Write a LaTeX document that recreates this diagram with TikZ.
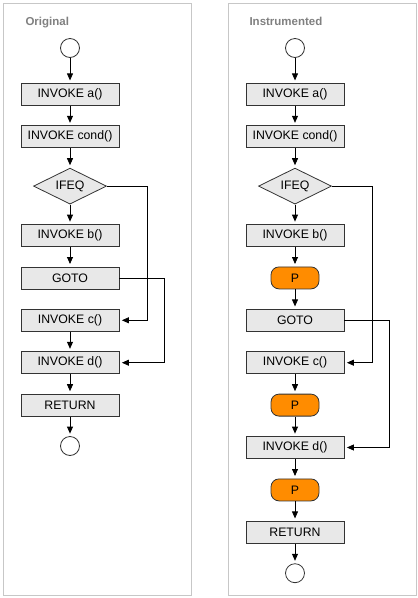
\documentclass[tikz,border=0pt]{standalone}
\usepackage{fontspec}
\setmainfont{Liberation Sans}
\usepackage{xcolor}
\usepackage{tikz}
\usetikzlibrary{positioning,shapes.geometric,arrows.meta}
\definecolor{probeorange}{HTML}{FF8C00}

\begin{document}
\begin{tikzpicture}[
    x=1pt, y=-1pt,
    node distance=19.6pt,
    font=\fontsize{12.3}{14}\selectfont,
    panel/.style={draw=black!22, line width=0.8pt},
    paneltitle/.style={anchor=base west, font=\fontsize{11.5}{13}\selectfont\bfseries, text=black!50},
    block/.style={rectangle, draw=black!80, line width=0.8pt, fill=black!9, minimum width=98pt, minimum height=22pt, inner sep=0pt},
    probe/.style={rectangle, rounded corners=8pt, draw=black!80, line width=0.8pt, fill=probeorange, minimum width=48pt, minimum height=22pt, inner sep=0pt},
    branch/.style={diamond, aspect=2, draw=black!80, line width=0.8pt, fill=black!9, minimum width=73pt, minimum height=36pt, inner sep=0pt},
    terminal/.style={circle, draw=black!80, line width=0.8pt, fill=white, minimum size=19pt, inner sep=0pt},
    arrow/.style={-{Triangle[length=7pt,width=6pt]}, line width=0.8pt, shorten >=2.5pt}
]
\useasboundingbox (0,0) rectangle (418,598);

% panels
\draw[panel] (3,3) rectangle (191,595);
\draw[panel] (228,3) rectangle (416,595);
\node[paneltitle] (otitle) at (22,25.5) {Original};
\node[paneltitle] (ititle) at (246,25.5) {Instrumented};

% original
\node[terminal] (ostart) at (70,48) {};
\node[block, below=25pt of ostart] (oa) {INVOKE a()};
\node[block, below=of oa] (ocond) {INVOKE cond()};
\node[branch, below=of ocond] (oifeq) {IFEQ};
\node[block, below=of oifeq] (ob) {INVOKE b()};
\node[block, below=of ob] (ogoto) {GOTO};
\node[block, below=of ogoto] (oc) {INVOKE c()};
\node[block, below=of oc] (od) {INVOKE d()};
\node[block, below=of od] (oret) {RETURN};
\node[terminal, below=of oret] (oend) {};

\draw[arrow] (ostart) -- (oa);
\draw[arrow] (oa) -- (ocond);
\draw[arrow] (ocond) -- (oifeq);
\draw[arrow] (oifeq) -- (ob);
\draw[arrow] (ob) -- (ogoto);
\draw[arrow] (oc) -- (od);
\draw[arrow] (od) -- (oret);
\draw[arrow] (oret) -- (oend);
\draw[arrow] (oifeq.east) -- ++(40pt,0) |- (oc.east);
\draw[arrow] (ogoto.east) -- ++(45pt,0) |- (od.east);

% instrumented
\node[terminal] (istart) at (295,48) {};
\node[block, below=25pt of istart] (ia) {INVOKE a()};
\node[block, below=of ia] (icond) {INVOKE cond()};
\node[branch, below=of icond] (iifeq) {IFEQ};
\node[block, below=of iifeq] (ib) {INVOKE b()};
\node[probe, below=of ib] (ip1) {P};
\node[block, below=of ip1] (igoto) {GOTO};
\node[block, below=of igoto] (ic) {INVOKE c()};
\node[probe, below=of ic] (ip2) {P};
\node[block, below=of ip2] (id) {INVOKE d()};
\node[probe, below=of id] (ip3) {P};
\node[block, below=of ip3] (iret) {RETURN};
\node[terminal, below=of iret] (iend) {};

\draw[arrow] (istart) -- (ia);
\draw[arrow] (ia) -- (icond);
\draw[arrow] (icond) -- (iifeq);
\draw[arrow] (iifeq) -- (ib);
\draw[arrow] (ib) -- (ip1);
\draw[arrow] (ip1) -- (igoto);
\draw[arrow] (ic) -- (ip2);
\draw[arrow] (ip2) -- (id);
\draw[arrow] (id) -- (ip3);
\draw[arrow] (ip3) -- (iret);
\draw[arrow] (iret) -- (iend);
\draw[arrow] (iifeq.east) -- ++(40pt,0) |- (ic.east);
\draw[arrow] (igoto.east) -- ++(45pt,0) |- (id.east);
\end{tikzpicture}
\end{document}
